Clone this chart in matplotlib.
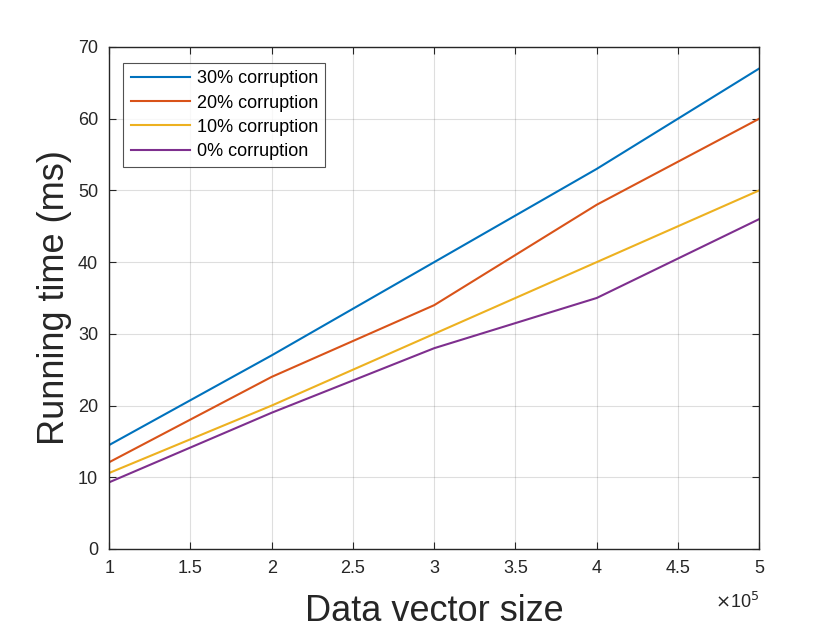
import matplotlib
matplotlib.use('Agg')
import matplotlib.pyplot as plt

plt.rcParams['font.family'] = ['Liberation Sans', 'DejaVu Sans']

sizes = [1, 2, 3, 4, 5]
t30 = [14.5, 27, 40, 53, 67]
t20 = [12.1, 24, 34, 48, 60]
t10 = [10.6, 20, 30, 40, 50]
t0 = [9.3, 19, 28, 35, 46]
labels = ['30% corruption', '20% corruption', '10% corruption', '0% corruption']
colors = ['#0072BD', '#D95319', '#EDB120', '#7E2F8E']

fig = plt.figure(figsize=(8.4, 6.3), dpi=100)
ax = fig.add_axes([0.130, 0.1286, 0.7738, 0.7968])

for ys, lab, col in zip([t30, t20, t10, t0], labels, colors):
    ax.plot(sizes, ys, color=col, lw=1.5, label=lab)

ax.set_xlim(1, 5)
ax.set_ylim(0, 70)
ax.set_xticks([1, 1.5, 2, 2.5, 3, 3.5, 4, 4.5, 5])
ax.set_xticklabels(['1', '1.5', '2', '2.5', '3', '3.5', '4', '4.5', '5'])
ax.set_yticks(range(0, 71, 10))
ax.grid(True, color='#262626', alpha=0.15, lw=0.8)
ax.tick_params(direction='in', length=5, labelsize=13, colors='#262626',
               top=True, right=True, pad=8)
for s in ax.spines.values():
    s.set_color('#262626')
    s.set_linewidth(1.0)

ax.set_xlabel('Data vector size', fontsize=26, color='#262626', labelpad=12)
ax.set_ylabel('Running time (ms)', fontsize=26, color='#262626', labelpad=4)
ax.text(1.0, -0.085, r'$\times$10$^5$', transform=ax.transAxes, ha='right',
        va='top', fontsize=13, color='#262626')

leg = ax.legend(loc='upper left', bbox_to_anchor=(0.022, 0.968), fontsize=13,
                frameon=True, fancybox=False, borderpad=0.4, labelspacing=0.4,
                handlelength=3.3, handletextpad=0.35, borderaxespad=0)
leg.get_frame().set_edgecolor('#262626')
leg.get_frame().set_linewidth(0.8)

fig.savefig('out.png')
